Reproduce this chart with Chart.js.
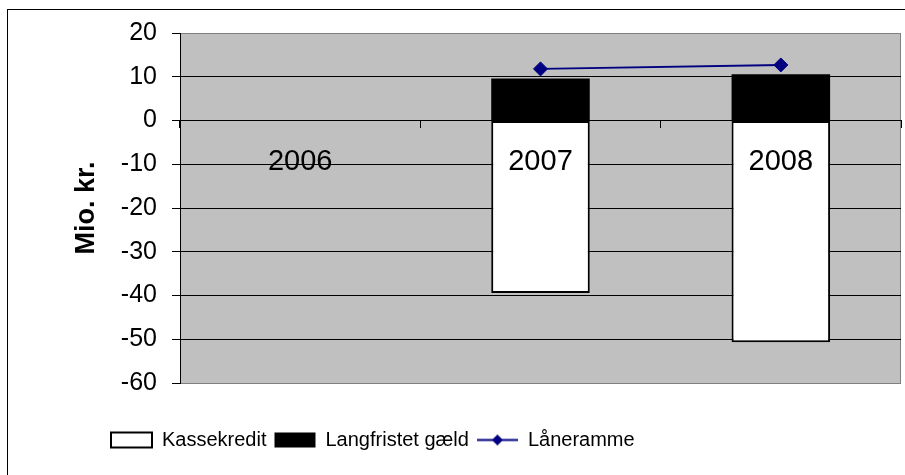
<!DOCTYPE html>
<html><head><meta charset="utf-8">
<script src="https://cdn.jsdelivr.net/npm/chart.js@4/dist/chart.umd.min.js"></script>
<style>html,body{margin:0;padding:0;background:#fff;}#wrap{width:905px;height:475px;position:relative;}</style>
</head><body><div id="wrap"><canvas id="c" width="905" height="475"></canvas></div>
<script>
const categories = ['2006', '2007', '2008'];
const kassekredit = [null, -39.4, -50.7];
const langfristetGaeld = [null, 9.6, 10.6];
const laaneramme = [null, 11.8, 12.7];
const seriesNames = ['Kassekredit', 'Langfristet gæld', 'Låneramme'];
const yTitle = 'Mio. kr.';
const yMin = -60, yMax = 20, yStep = 10;

const FAMILY = '"Liberation Sans", Arial, sans-serif';
Chart.defaults.font.family = FAMILY;
Chart.defaults.color = '#000';

// legend symbol for the line series: line with diamond
const lineSymbol = document.createElement('canvas');
lineSymbol.width = 41; lineSymbol.height = 15;
(function(){
  const lc = lineSymbol.getContext('2d');
  lc.strokeStyle = '#000080'; lc.lineWidth = 2;
  lc.beginPath(); lc.moveTo(0, 7.5); lc.lineTo(41, 7.5); lc.stroke();
  lc.fillStyle = '#000080';
  lc.beginPath(); lc.moveTo(20.5, 2); lc.lineTo(26, 7.5); lc.lineTo(20.5, 13); lc.lineTo(15, 7.5); lc.closePath(); lc.fill();
})();

const bgPlugin = {
  id: 'bg',
  beforeDraw(chart) {
    const {ctx, chartArea: a} = chart;
    ctx.save();
    ctx.fillStyle = '#fff';
    ctx.fillRect(0, 0, chart.width, chart.height);
    ctx.strokeStyle = '#000'; ctx.lineWidth = 1;
    ctx.strokeRect(7.5, 9.5, chart.width + 20, chart.height + 20);
    ctx.fillStyle = '#C0C0C0';
    ctx.fillRect(a.left, a.top, a.right - a.left, a.bottom - a.top);
    ctx.strokeStyle = '#808080';
    ctx.beginPath(); ctx.moveTo(a.right - 0.5, a.top); ctx.lineTo(a.right - 0.5, a.bottom); ctx.stroke();
    ctx.restore();
  }
};

const legendPlace = {
  id: 'legendPlace',
  afterLayout(chart) {
    const lg = chart.legend;
    const pad = lg.options.labels.padding;
    const dx = 111 - pad - lg.left;
    lg.left += dx; lg.right += dx;
    const h = lg.bottom - lg.top;
    lg.top = 440 - pad - 10; lg.bottom = lg.top + h;
  }
};

new Chart(document.getElementById('c'), {
  type: 'bar',
  data: {
    labels: categories,
    datasets: [
      { type: 'bar', label: seriesNames[0], data: kassekredit, backgroundColor: '#fff', borderColor: '#000', borderWidth: 2, borderSkipped: false, stack: 's', order: 1, barPercentage: 0.41, categoryPercentage: 1 },
      { type: 'bar', label: seriesNames[1], data: langfristetGaeld, backgroundColor: '#000', borderColor: '#000', borderWidth: 0, stack: 's', order: 1, barPercentage: 0.41, categoryPercentage: 1 },
      { type: 'line', label: seriesNames[2], data: laaneramme, borderColor: '#000080', backgroundColor: '#000080', borderWidth: 2, pointStyle: 'rectRot', pointRadius: 7, pointBackgroundColor: '#000080', pointBorderColor: '#000080', pointBorderWidth: 1, stack: 'line', order: 0, fill: false }
    ]
  },
  options: {
    responsive: false,
    animation: false,
    devicePixelRatio: 1,
    layout: { autoPadding: false, padding: { left: 8, top: 33, right: 4, bottom: 54 } },
    scales: {
      x: {
        type: 'category', stacked: true, position: { y: 0 }, offset: true,
        grid: { offset: true, drawOnChartArea: false, color: '#000', tickLength: 7 },
        border: { display: true, color: '#000', width: 1, z: 1 },
        ticks: { z: 2, color: '#000', font: { family: FAMILY, size: 29 }, padding: 17, maxRotation: 0, autoSkip: false },
        afterFit(s) { s.height = 0; s.paddingLeft = 0; s.paddingRight = 0; }
      },
      y: {
        type: 'linear', stacked: true, min: yMin, max: yMax,
        ticks: { stepSize: yStep, color: '#000', font: { family: FAMILY, size: 25 }, padding: 15 },
        grid: { color: c => (c.tick && (c.tick.value === yMax || c.tick.value === yMin)) ? '#808080' : '#000', tickColor: '#000', tickLength: 8, lineWidth: 1 },
        border: { display: true, color: '#000', width: 1 },
        title: { display: true, text: yTitle, color: '#000', font: { family: FAMILY, size: 27, weight: 'bold' }, padding: { top: 62, bottom: 0 } },
        afterFit(s) { s.width = 172; }
      }
    },
    plugins: {
      tooltip: { enabled: false },
      legend: {
        position: 'bottom', align: 'start',
        labels: {
          color: '#000', font: { family: FAMILY, size: 20 }, padding: 8,
          usePointStyle: true, pointStyleWidth: 41, boxHeight: 15,
          sort: (a, b) => a.datasetIndex - b.datasetIndex,
          generateLabels(chart) {
            const items = Chart.defaults.plugins.legend.labels.generateLabels(chart);
            items.forEach(it => {
              const ds = chart.data.datasets[it.datasetIndex];
              if (ds.type === 'line') { it.pointStyle = lineSymbol; it.lineWidth = 0; }
              else { it.pointStyle = 'rect'; }
            });
            return items;
          }
        }
      }
    }
  },
  plugins: [bgPlugin, legendPlace]
});
</script>
</body></html>
